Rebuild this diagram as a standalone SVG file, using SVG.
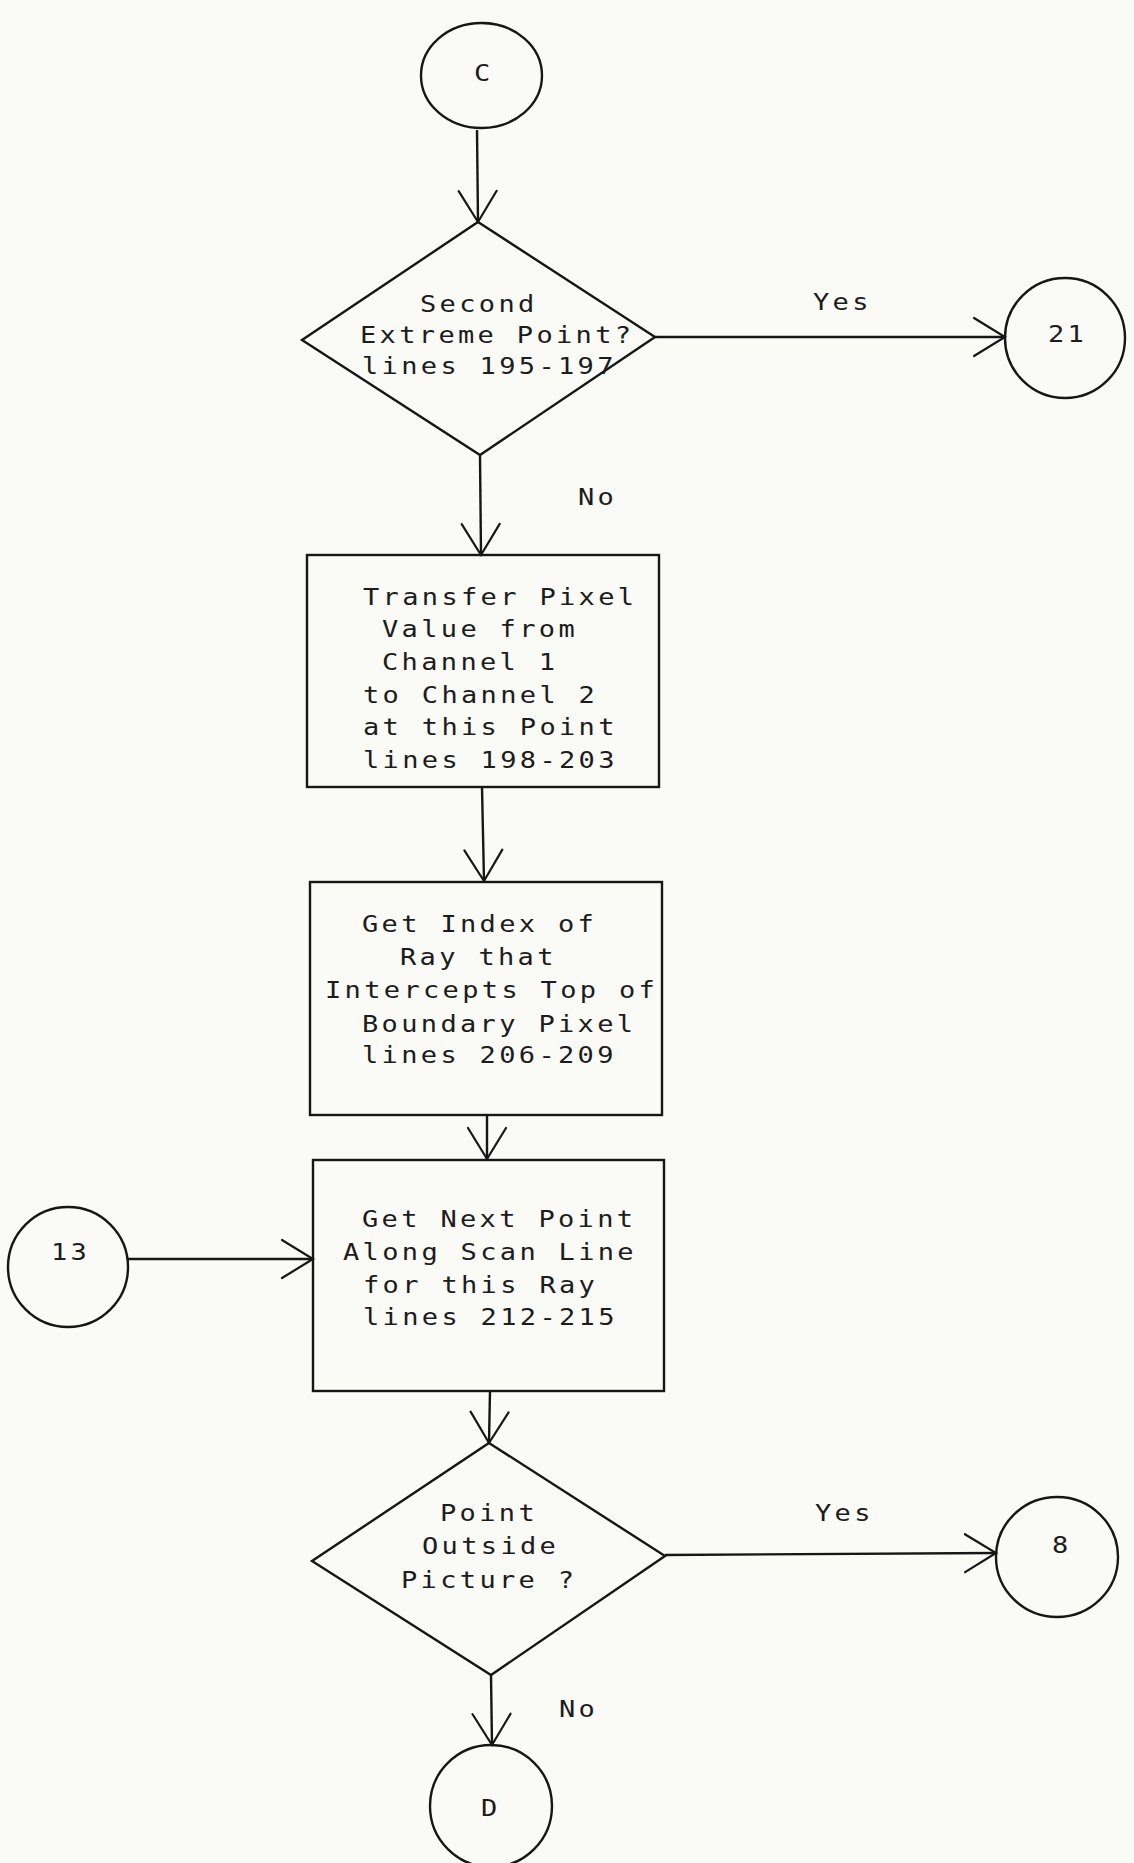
<svg xmlns="http://www.w3.org/2000/svg" width="1134" height="1863" viewBox="0 0 1134 1863">
  <defs>
    <!-- open V arrowhead used on every flow line -->
    <marker id="vhead" markerUnits="userSpaceOnUse" markerWidth="40" markerHeight="50" viewBox="-34 -25 40 50" refX="0" refY="0" orient="auto">
      <path d="M -31 -19 L 0 0 L -31 19" fill="none" stroke="#161616" stroke-width="2.2" stroke-linecap="round" stroke-linejoin="miter"/>
    </marker>
  </defs>
  <style>
    .shape { fill: none; stroke: #161616; stroke-width: 2.4; }
    .flow { fill: none; stroke: #161616; stroke-width: 2.4; marker-end: url(#vhead); }
    /* plotter-style wide monospace lettering: glyphs are stretched 1.15x via transform */
    .lbl { font-family: "DejaVu Sans Mono", "Liberation Mono", monospace; font-size: 23.5px; letter-spacing: 2.9px; fill: #1c1c1c; }
  </style>

  <rect x="0" y="0" width="1134" height="1863" fill="#fafaf6"/>

  <!-- flow lines -->
  <g id="connectors">
    <line class="flow" x1="477" y1="130" x2="478" y2="222"/>
    <line class="flow" x1="655" y1="337" x2="1005" y2="337"/>
    <line class="flow" x1="480" y1="455" x2="481" y2="555"/>
    <line class="flow" x1="482" y1="787" x2="484" y2="881"/>
    <line class="flow" x1="487" y1="1115" x2="487" y2="1159"/>
    <line class="flow" x1="128" y1="1259" x2="313" y2="1259"/>
    <line class="flow" x1="490" y1="1391" x2="489" y2="1443"/>
    <line class="flow" x1="665" y1="1555" x2="996" y2="1553"/>
    <line class="flow" x1="491" y1="1675" x2="492" y2="1745"/>
    <text class="lbl" transform="translate(813 310) scale(1.15 1)">Yes</text>
    <text class="lbl" transform="translate(578 505) scale(1.15 1)">No</text>
    <text class="lbl" transform="translate(815 1521) scale(1.15 1)">Yes</text>
    <text class="lbl" transform="translate(559 1717) scale(1.15 1)">No</text>
  </g>

  <g id="conn-C">
    <ellipse class="shape" cx="481.5" cy="75.5" rx="60.5" ry="52.5"/>
    <text class="lbl" transform="translate(474 81) scale(1.15 1)">C</text>
  </g>

  <g id="dec-second-extreme">
    <polygon class="shape" points="478,222 655,337 480,455 302,340"/>
    <text class="lbl" transform="translate(420 312) scale(1.15 1)">Second</text>
    <text class="lbl" transform="translate(360 343) scale(1.15 1)">Extreme Point?</text>
    <text class="lbl" transform="translate(362 374) scale(1.15 1)">lines 195-197</text>
  </g>

  <g id="conn-21">
    <circle class="shape" cx="1065" cy="338" r="60"/>
    <text class="lbl" transform="translate(1048 342) scale(1.15 1)">21</text>
  </g>

  <g id="proc-transfer">
    <rect class="shape" x="307" y="555" width="352" height="232"/>
    <text class="lbl" transform="translate(363 605) scale(1.15 1)">Transfer Pixel</text>
    <text class="lbl" transform="translate(382 637) scale(1.15 1)">Value from</text>
    <text class="lbl" transform="translate(382 670) scale(1.15 1)">Channel 1</text>
    <text class="lbl" transform="translate(363 703) scale(1.15 1)">to Channel 2</text>
    <text class="lbl" transform="translate(363 735) scale(1.15 1)">at this Point</text>
    <text class="lbl" transform="translate(363 768) scale(1.15 1)">lines 198-203</text>
  </g>

  <g id="proc-ray-index">
    <rect class="shape" x="310" y="882" width="352" height="233"/>
    <text class="lbl" transform="translate(362 932) scale(1.15 1)">Get Index of</text>
    <text class="lbl" transform="translate(400 965) scale(1.15 1)">Ray that</text>
    <text class="lbl" transform="translate(325 998) scale(1.15 1)">Intercepts Top of</text>
    <text class="lbl" transform="translate(362 1032) scale(1.15 1)">Boundary Pixel</text>
    <text class="lbl" transform="translate(362 1063) scale(1.15 1)">lines 206-209</text>
  </g>

  <g id="conn-13">
    <circle class="shape" cx="68" cy="1267" r="60"/>
    <text class="lbl" transform="translate(51 1260) scale(1.15 1)">13</text>
  </g>

  <g id="proc-next-point">
    <rect class="shape" x="313" y="1160" width="351" height="231"/>
    <text class="lbl" transform="translate(362 1227) scale(1.15 1)">Get Next Point</text>
    <text class="lbl" transform="translate(343 1260) scale(1.15 1)">Along Scan Line</text>
    <text class="lbl" transform="translate(363 1293) scale(1.15 1)">for this Ray</text>
    <text class="lbl" transform="translate(363 1325) scale(1.15 1)">lines 212-215</text>
  </g>

  <g id="dec-outside">
    <polygon class="shape" points="489,1443 665,1556 491,1675 312,1561"/>
    <text class="lbl" transform="translate(440 1521) scale(1.15 1)">Point</text>
    <text class="lbl" transform="translate(422 1554) scale(1.15 1)">Outside</text>
    <text class="lbl" transform="translate(401 1588) scale(1.15 1)">Picture ?</text>
  </g>

  <g id="conn-8">
    <ellipse class="shape" cx="1057" cy="1557" rx="61" ry="60"/>
    <text class="lbl" transform="translate(1052 1553) scale(1.15 1)">8</text>
  </g>

  <g id="conn-D">
    <circle class="shape" cx="491" cy="1806" r="61"/>
    <text class="lbl" transform="translate(481 1816) scale(1.15 1)">D</text>
  </g>
</svg>
